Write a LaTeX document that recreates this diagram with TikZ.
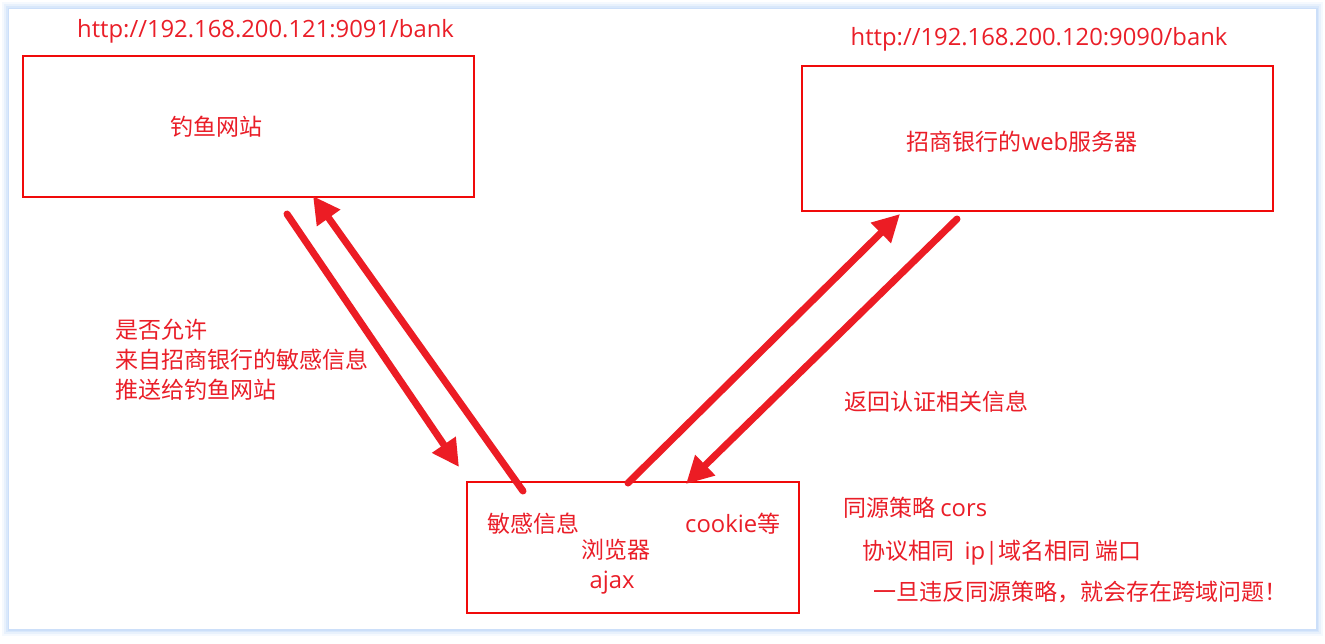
\documentclass[tikz,border=0pt]{standalone}
\usepackage{fontspec}
\setmainfont{Noto Sans CJK SC}
\newfontfamily\lat[Scale=1.035]{Open Sans}
\usetikzlibrary{arrows.meta}
\definecolor{txtred}{RGB}{234,30,40}
\definecolor{boxred}{RGB}{240,10,10}
\definecolor{arrred}{RGB}{236,28,36}
\definecolor{shadowblue}{RGB}{190,215,248}
\begin{document}
\begin{tikzpicture}[x=1pt,y=-1pt,
  box/.style={draw=boxred,line width=2pt,inner sep=0pt},
  lbl/.style={text=txtred,font=\fontsize{23}{30}\selectfont,inner sep=0pt},
  arr/.style={draw=arrred,line width=7pt,line cap=round,-{Triangle[length=27pt,width=27pt]}}]
\useasboundingbox (0,0) rectangle (1325,643);
% frame with soft shadow
\foreach \i/\o in {7/0.15,5/0.25,3/0.35,1.5/0.5}
  \fill[shadowblue,opacity=\o] (9-\i,9-\i) rectangle (1316+\i,629+\i);
\fill[white] (9,9) rectangle (1316,629);
% boxes
\node[box,minimum width=451pt,minimum height=141pt] (phish) at (248.5,126.5) {};
\node[box,minimum width=471pt,minimum height=145pt] (bank) at (1037.5,138.5) {};
\node[box,minimum width=332pt,minimum height=131pt] (browser) at (633,547.5) {};
% urls
\node[lbl] (url1) at (265.5,31) {\lat http://192.168.200.121:9091/bank};
\node[lbl] (url2) at (1039,39) {\lat http://192.168.200.120:9090/bank};
% box texts
\node[lbl] (phishtxt) at (216,127) {钓鱼网站};
\node[lbl] (banktxt) at (1022,142) {招商银行的{\lat web}服务器};
\node[lbl,anchor=west] (sens) at (487,524) {敏感信息};
\node[lbl] (brw) at (616,550) {浏览器};
\node[lbl] (ajax) at (612,583) {\lat ajax};
\node[lbl,anchor=west] (cookie) at (685,524) {{\lat cookie}等};
% side labels
\node[lbl,anchor=west,align=left] (ask) at (115,360) {是否允许\\来自招商银行的敏感信息\\推送给钓鱼网站};
\node[lbl,anchor=west] (ret) at (844,402) {返回认证相关信息};
\node[lbl,anchor=west] (sop) at (843,508) {同源策略 {\lat cors}};
\node[lbl,anchor=west] (same) at (862,553) {协议相同\ \ {\lat ip|}域名相同 端口};
\node[lbl,anchor=west] (viol) at (873,592) {一旦违反同源策略，就会存在跨域问题！};
% arrow end points
\coordinate (a1s) at (287,214);
\coordinate (a1e) at (459,467);
\coordinate (a2s) at (523,491);
\coordinate (a2e) at (313,196);
\coordinate (a3s) at (628,483);
\coordinate (a3e) at (900,214);
\coordinate (a4s) at (957,219);
\coordinate (a4e) at (686,484);
\draw[arr] (a1s) -- (a1e);
\draw[arr] (a2s) -- (a2e);
\draw[arr] (a3s) -- (a3e);
\draw[arr] (a4s) -- (a4e);
\end{tikzpicture}
\end{document}
